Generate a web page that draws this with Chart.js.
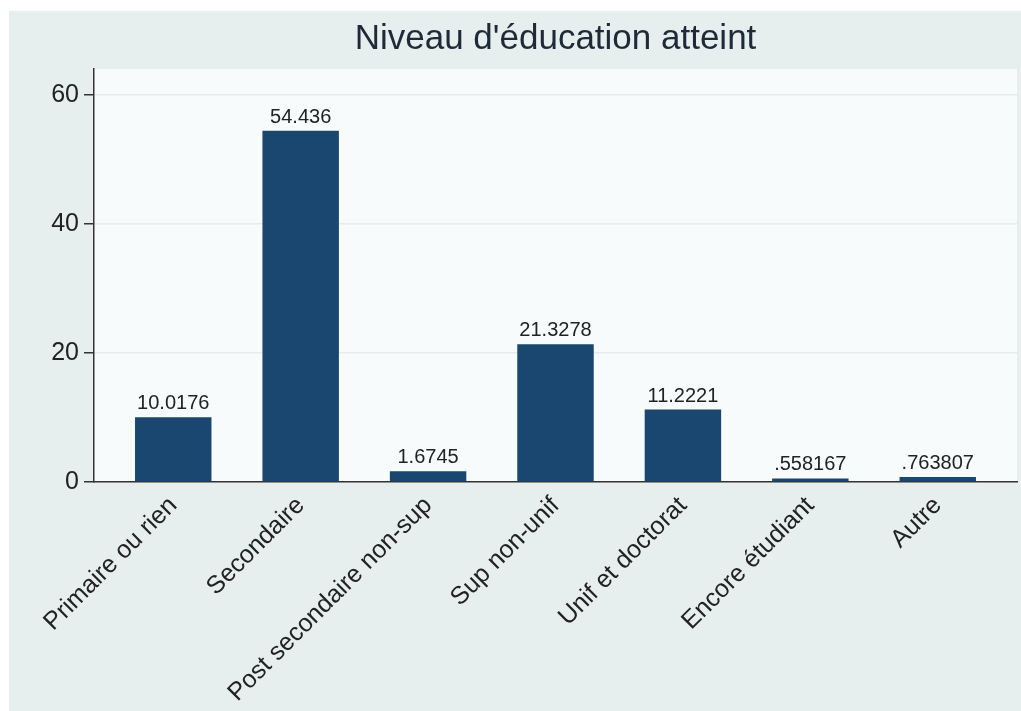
<!DOCTYPE html>
<html>
<head>
<meta charset="utf-8">
<style>
  html, body { margin: 0; padding: 0; background: #ffffff; }
  #wrap { position: absolute; left: 9px; top: 11px; width: 1012px; height: 700px; background: #e7eeee; }
</style>
<script src="https://cdn.jsdelivr.net/npm/chart.js@4.4.7/dist/chart.umd.min.js"></script>
</head>
<body>
<div id="wrap"><canvas id="chart" width="1012" height="700"></canvas></div>
<script>
var categories = [
  'Primaire ou rien',
  'Secondaire',
  'Post secondaire non-sup',
  'Sup non-unif',
  'Unif et doctorat',
  'Encore étudiant',
  'Autre',
];
var values = [10.0176, 54.436, 1.6745, 21.3278, 11.2221, 0.558167, 0.763807];
var yTicks = [0, 20, 40, 60];
var chartTitle = "Niveau d'éducation atteint";

var FONT = '"Liberation Sans", Arial, sans-serif';
var TEXT = '#222222';

// Stata style labels drop the leading zero
function fmt(v) {
  return String(v).replace(/^0\./, '.');
}

var plotBg = {
  id: 'plotBg',
  beforeDraw: function (chart) {
    var a = chart.chartArea;
    var ctx = chart.ctx;
    ctx.save();
    ctx.fillStyle = '#f8fbfb';
    ctx.fillRect(a.left, a.top, a.right - a.left, a.bottom - a.top);
    ctx.restore();
  },
};

var barLabels = {
  id: 'barLabels',
  afterDatasetsDraw: function (chart) {
    var ctx = chart.ctx;
    var meta = chart.getDatasetMeta(0);
    ctx.save();
    ctx.fillStyle = TEXT;
    ctx.font = '20px ' + FONT;
    ctx.textAlign = 'center';
    ctx.textBaseline = 'alphabetic';
    meta.data.forEach(function (el, i) {
      ctx.fillText(fmt(values[i]), el.x, el.y - 8);
    });
    ctx.restore();
  },
};

// title is centred on the plot region, not the whole canvas
var centeredTitle = {
  id: 'centeredTitle',
  afterDraw: function (chart) {
    var a = chart.chartArea;
    var ctx = chart.ctx;
    ctx.save();
    ctx.fillStyle = '#1e2a38';
    ctx.font = '35px ' + FONT;
    ctx.textAlign = 'center';
    ctx.textBaseline = 'alphabetic';
    ctx.fillText(chartTitle, (a.left + a.right) / 2, 38);
    ctx.restore();
  },
};

var points = values.map(function (v, i) {
  return { x: i, y: v };
});

new Chart(document.getElementById('chart').getContext('2d'), {
  type: 'bar',
  data: {
    datasets: [
      {
        data: points,
        backgroundColor: '#1a476f',
        borderWidth: 0,
        categoryPercentage: 1,
        barPercentage: 0.6,
      },
    ],
  },
  options: {
    responsive: false,
    animation: false,
    layout: { padding: { left: 0, right: 4, top: 58, bottom: 0 } },
    plugins: {
      legend: { display: false },
      tooltip: { enabled: false },
      title: { display: false },
    },
    scales: {
      x: {
        type: 'linear',
        offset: false,
        min: -0.622,
        max: 6.622,
        afterBuildTicks: function (scale) {
          scale.ticks = categories.map(function (c, i) {
            return { value: i };
          });
        },
        afterFit: function (scale) {
          scale.height = 229;
          scale.paddingLeft = 0;
          scale.paddingRight = 0;
        },
        grid: { display: false, drawTicks: false },
        border: { display: true, color: '#333333', width: 1.5 },
        ticks: {
          autoSkip: false,
          minRotation: 45,
          maxRotation: 45,
          padding: 9,
          color: TEXT,
          font: { family: FONT, size: 25 },
          callback: function (value) {
            return categories[value];
          },
        },
      },
      y: {
        min: 0,
        max: 64,
        afterBuildTicks: function (scale) {
          scale.ticks = yTicks.map(function (v) {
            return { value: v };
          });
        },
        afterFit: function (scale) {
          scale.width = 85;
        },
        grid: {
          color: '#e6ebeb',
          lineWidth: 1.5,
          tickColor: '#333333',
          tickLength: 10,
        },
        border: { display: true, color: '#333333', width: 1.5 },
        ticks: {
          padding: 5,
          color: TEXT,
          font: { family: FONT, size: 25 },
        },
      },
    },
  },
  plugins: [plotBg, barLabels, centeredTitle],
});
</script>
</body>
</html>
